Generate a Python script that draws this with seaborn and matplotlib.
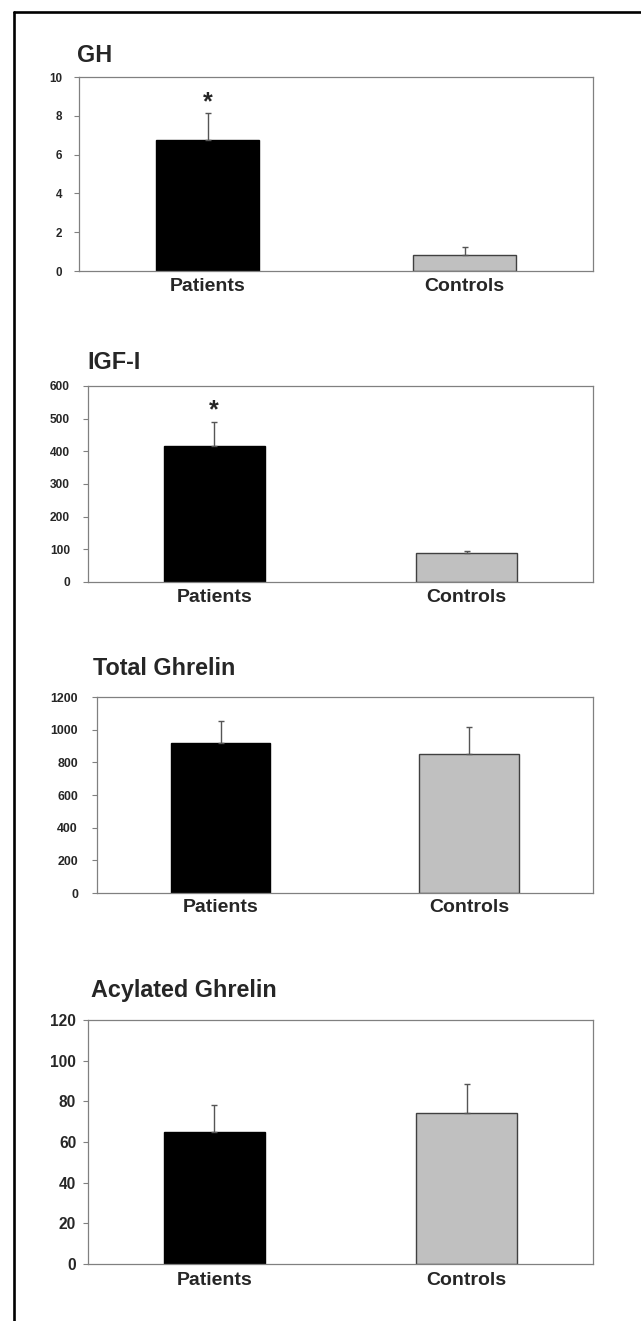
import matplotlib
matplotlib.use("Agg")
import matplotlib.pyplot as plt
from matplotlib.lines import Line2D
from matplotlib.ticker import FixedLocator
import seaborn as sns
import pandas as pd

# ---- data ----
groups = ["Patients", "Controls"]
gh_mean = [6.75, 0.82]
gh_sem = [1.38, 0.42]
igf_mean = [416, 88]
igf_sem = [74, 6]
total_mean = [918, 848]
total_sem = [135, 167]
acyl_mean = [65, 74.3]
acyl_sem = [13, 14]
titles = ["GH", "IGF-I", "Total Ghrelin", "Acylated Ghrelin"]
yticks_gh = [0, 2, 4, 6, 8, 10]
yticks_igf = [0, 100, 200, 300, 400, 500, 600]
yticks_total = [0, 200, 400, 600, 800, 1000, 1200]
yticks_acyl = [0, 20, 40, 60, 80, 100, 120]
significant = [[True, False], [True, False], [False, False], [False, False]]

sns.set_style("white")
plt.rcParams["font.family"] = ["Liberation Sans", "DejaVu Sans"]
plt.rcParams["font.weight"] = "bold"

W, H = 641, 1321
fig = plt.figure(figsize=(W / 100, H / 100), dpi=100)

# panel layout in pixels: left, right, top, bottom, title x, title y, tick size, tick pad, label pad
layout = [
    (79, 593, 77, 271, 77, 55, 8.4, 8.6, 5.0),
    (88, 593, 386, 582, 87, 362, 8.6, 9.4, 5.0),
    (96.7, 593, 697, 893, 93, 668, 8.9, 10.0, 4.0),
    (88, 593, 1020, 1264, 91, 990, 11.2, 5.0, 6.0),
]
means = [gh_mean, igf_mean, total_mean, acyl_mean]
sems = [gh_sem, igf_sem, total_sem, acyl_sem]
yticks = [yticks_gh, yticks_igf, yticks_total, yticks_acyl]

fill_colors = {"Patients": "#000000", "Controls": "#C0C0C0"}
edge_colors = ["#000000", "#404040"]
axis_gray = "#808080"

for i in range(4):
    l, r, t, b, tx, ty, tsize, tpad, lpad = layout[i]
    ax = fig.add_axes([l / W, 1 - b / H, (r - l) / W, (b - t) / H])
    df = pd.DataFrame({"group": groups, "value": means[i]})
    sns.barplot(data=df, x="group", y="value", hue="group", palette=fill_colors,
                order=groups, hue_order=groups, width=0.4, legend=False, ax=ax,
                errorbar=None, linewidth=1.0)
    for p, ec in zip(ax.patches, edge_colors):
        p.set_edgecolor(ec)
        p.set_linewidth(1.0)
    ax.errorbar([0, 1], means[i], yerr=[[0, 0], sems[i]], fmt="none",
                ecolor="#555555", elinewidth=1.0, capsize=2.5, capthick=1.0, zorder=1)
    for j in range(2):
        if significant[i][j]:
            ax.annotate("*", xy=(j, means[i][j] + sems[i][j]), xytext=(0, 3),
                        textcoords="offset points", ha="center", va="baseline",
                        fontsize=18, fontweight="bold")
    ax.set_xlim(-0.5, 1.5)
    ax.set_ylim(yticks[i][0], yticks[i][-1])
    ax.set_yticks(yticks[i])
    ax.set_yticklabels([str(v) for v in yticks[i]], fontsize=tsize, fontweight="bold")
    ax.set_xticks([0, 1])
    ax.set_xticklabels(groups, fontsize=14, fontweight="bold")
    ax.xaxis.set_minor_locator(FixedLocator([-0.5, 0.5, 1.5]))
    ax.tick_params(axis="x", which="major", length=0, pad=lpad)
    ax.tick_params(axis="x", which="minor", length=3, width=0.8, color=axis_gray, direction="out")
    ax.tick_params(axis="y", which="major", length=3.5, width=0.8, color=axis_gray,
                   direction="out", pad=tpad, left=True)
    ax.set_xlabel("")
    ax.set_ylabel("")
    for s in ax.spines.values():
        s.set_visible(True)
        s.set_color(axis_gray)
        s.set_linewidth(0.9)
    fig.text(tx / W, 1 - ty / H, titles[i], ha="left", va="center",
             fontsize=16.8, fontweight="bold")

# outer frame (top and left edges)
fig.add_artist(Line2D([13.5 / W, 1.0], [1 - 11.5 / H, 1 - 11.5 / H],
                      transform=fig.transFigure, color="black", linewidth=1.9))
fig.add_artist(Line2D([13.5 / W, 13.5 / W], [1 - 11.5 / H, 0.0],
                      transform=fig.transFigure, color="black", linewidth=1.9))

fig.savefig("out.png", dpi=100, facecolor="white")
